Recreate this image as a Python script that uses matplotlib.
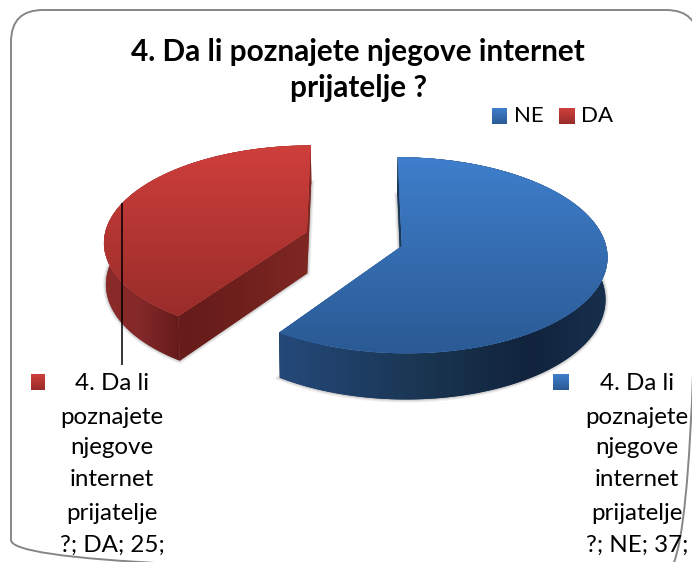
import numpy as np
import matplotlib
matplotlib.use("Agg")
import matplotlib.pyplot as plt
from matplotlib.colors import to_rgb
from matplotlib.patches import FancyBboxPatch, Polygon, Wedge
from matplotlib.transforms import Transform

# ---- data ----
title_lines = ["4. Da li poznajete njegove internet", "prijatelje ?"]
categories = ["NE", "DA"]
values = [37, 25]
series_name = ["4. Da li", "poznajete", "njegove", "internet", "prijatelje"]

# ---- style ----
W, H = 692, 562
top_grad = {"NE": ("#3f7fcc", "#2a5a94"), "DA": ("#cf3f3c", "#982c29")}
side_x = {"NE": [280, 430, 530, 605], "DA": [103, 140, 178, 240, 307]}
side_c = {"NE": ["#24497a", "#19344f", "#11233d", "#172f4d"],
          "DA": ["#8c2b28", "#84282a", "#651c1a", "#6f201d", "#7f2723"]}
EXPLODE = 0.245
X0, Y0, RX, RY, K = 354, 239, 203, 95.9, 0.093
DEPTH = 41.5


class Persp(Transform):
    """Tilted, foreshortened view of the flat pie plane."""
    input_dims = output_dims = 2
    is_separable = False
    has_inverse = False

    def __init__(self, drop=0.0):
        super().__init__()
        self.drop = drop

    def transform_non_affine(self, values):
        values = np.asarray(values, float)
        u, v = values[:, 0], values[:, 1]
        w = 1 + K * v
        s = 1 - 0.008 * self.drop / DEPTH
        return np.column_stack([X0 + RX * u / w * s,
                                Y0 - RY * v / w + self.drop / w])


def gradient(ax, x0, y0, x1, y1, c_top, c_bot, zorder, clip=None):
    a, b = np.array(to_rgb(c_top)), np.array(to_rgb(c_bot))
    t = np.linspace(0, 1, 256)[:, None, None]
    im = ax.imshow(a[None, None, :] * (1 - t) + b[None, None, :] * t,
                   extent=(x0, x1, y1, y0), aspect="auto", zorder=zorder,
                   interpolation="bilinear")
    if clip is not None:
        im.set_clip_path(clip)
    return im


def side_colors(cat, xs):
    stops = np.array([to_rgb(c) for c in side_c[cat]])
    return np.column_stack([np.interp(xs, side_x[cat], stops[:, i]) for i in range(3)])


def wall(ax, cat, pts, zorder):
    top = Persp(0).transform_non_affine(pts)
    bot = Persp(DEPTH).transform_non_affine(pts)
    outline = np.vstack([top, bot[::-1]])
    x0, x1 = outline[:, 0].min() - 1, outline[:, 0].max() + 1
    y0, y1 = outline[:, 1].min() - 1, outline[:, 1].max() + 1
    xs = np.linspace(x0, x1, 256)
    mid = side_colors(cat, xs).mean(axis=0)
    poly = Polygon(outline, closed=True, facecolor=mid, edgecolor="none", zorder=zorder)
    ax.add_patch(poly)
    im = ax.imshow(side_colors(cat, xs)[None, :, :], extent=(x0, x1, y1, y0),
                   aspect="auto", zorder=zorder, interpolation="bilinear")
    im.set_clip_path(poly)


fig = plt.figure(figsize=(W / 100, H / 100), dpi=100, facecolor="white")
ax = fig.add_axes([0, 0, 1, 1])
plt.rcParams["font.family"] = ["Lato", "DejaVu Sans"]

wedges, _ = ax.pie(values, startangle=90, counterclock=False, radius=1,
                   explode=[EXPLODE] * len(values),
                   colors=[top_grad[c][0] for c in categories])

for i, (wd, cat) in enumerate(zip(wedges, categories)):
    z = 3
    cx, cy = wd.center
    wd.set_transform(Persp(0) + ax.transData)
    wd.set_linewidth(0)
    wd.set_zorder(z + 0.3)
    th = np.radians(np.linspace(wd.theta1, wd.theta2, 160))
    arc = np.column_stack([cx + np.cos(th), cy + np.sin(th)])

    # soft shadow round the foot of the slice
    for lw, al in [(4.5, 0.05), (3, 0.07), (1.5, 0.10)]:
        ax.add_patch(Wedge((cx, cy), 1, wd.theta1, wd.theta2, facecolor="none",
                           edgecolor=(0, 0, 0, al), linewidth=lw, zorder=1,
                           transform=Persp(DEPTH) + ax.transData))

    # radial cut faces, then the rounded outer wall
    for end in (arc[0], arc[-1]):
        wall(ax, cat, np.linspace([cx, cy], end, 40), z)
    wall(ax, cat, arc, z + 0.1)

    # top surface with vertical gradient
    scr = Persp(0).transform_non_affine(np.vstack([arc, [cx, cy]]))
    gradient(ax, scr[:, 0].min() - 1, scr[:, 1].min() - 1,
             scr[:, 0].max() + 1, scr[:, 1].max() + 1,
             *top_grad[cat], z + 0.4, clip=wd)

# chart frame
ax.add_patch(FancyBboxPatch((11, 10), 687, 562, boxstyle="round,pad=0,rounding_size=32",
                            facecolor="none", edgecolor="#868686", linewidth=1.4, zorder=2))

# title
TITLE_SIZE = 21.4
ax.text(358, 52, title_lines[0], ha="center", va="center", fontsize=TITLE_SIZE,
        fontweight="bold", color="black", zorder=6)
ax.text(358, 88, title_lines[1], ha="center", va="center", fontsize=TITLE_SIZE,
        fontweight="bold", color="black", zorder=6)

# legend
leg_swatch = [(492, 108, 507, 124), (559, 108, 575, 124)]
leg_text_x = [514, 581]
for cat, box, tx in zip(categories, leg_swatch, leg_text_x):
    gradient(ax, *box, *top_grad[cat], 6)
    ax.text(tx, 116, cat, ha="left", va="center", fontsize=16, color="black", zorder=6)

# data labels
label_cx = {"NE": 637, "DA": 112}
label_sw = {"NE": (553, 374, 569, 390), "DA": (31, 374, 45, 390)}
line_y = [383, 417, 448, 480, 513, 545]
for cat, val in zip(categories, values):
    gradient(ax, *label_sw[cat], *top_grad[cat], 6)
    lines = series_name + [f"?; {cat}; {val};"]
    for y, ln in zip(line_y, lines):
        ax.text(label_cx[cat], y, ln, ha="center", va="center", fontsize=17.4,
                color="black", zorder=6)

# leader line
ax.plot([121.5, 121.5], [203, 365], color="black", linewidth=1.1, zorder=5,
        solid_capstyle="butt")

ax.set_xlim(0, W)
ax.set_ylim(H, 0)
ax.set_aspect("auto")
ax.set_axis_off()
fig.savefig("out.png", dpi=100, facecolor="white")
